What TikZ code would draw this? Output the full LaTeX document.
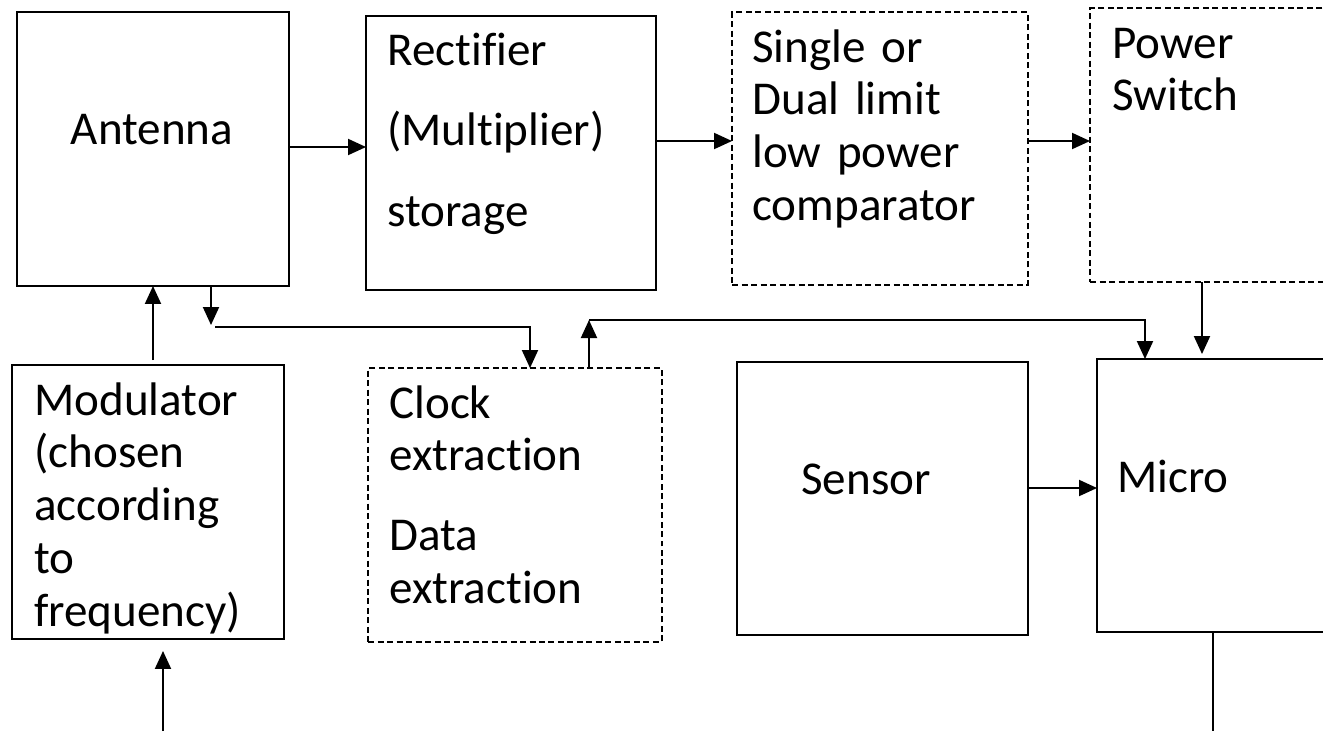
\documentclass[tikz,border=0pt]{standalone}
\usepackage{fontspec}
\setmainfont{Carlito}[Ligatures=NoCommon]
\usetikzlibrary{arrows.meta,calc}

\tikzset{
  blk/.style={draw, line width=1.1pt, inner sep=0pt, outer sep=0pt},
  dblk/.style={draw, line width=1pt, dash pattern=on 0.12cm off 0.07cm, inner sep=0pt, outer sep=0pt},
  txt/.style={anchor=base west, inner sep=0pt, text width=6cm, align=left, font=\fontsize{26.8pt}{30.1pt}\selectfont},
  arr/.style={line width=1.1pt, -{Triangle[length=0.36cm,width=0.32cm]}},
  ln/.style={line width=1.1pt}
}

\begin{document}
\begin{tikzpicture}[x=0.02cm, y=-0.02cm]
  \useasboundingbox (0,0) rectangle (1323,731);
  \clip (0,0) rectangle (1323,731);

  \node[blk, minimum width=5.44cm, minimum height=5.48cm] (ant) at (153,149) {};
  \node[blk, minimum width=5.80cm, minimum height=5.48cm] (rect) at (511,153) {};
  \node[dblk, minimum width=5.92cm, minimum height=5.46cm] (cmp) at (880,148.5) {};
  \node[dblk, minimum width=5.00cm, minimum height=5.48cm] (psw) at (1215,145) {};
  \node[blk, minimum width=5.44cm, minimum height=5.48cm] (mod) at (148,502) {};
  \node[dblk, minimum width=5.88cm, minimum height=5.48cm] (clk) at (515,505) {};
  \node[blk, minimum width=5.82cm, minimum height=5.46cm] (sen) at (882.5,498.5) {};
  \node[blk, minimum width=4.86cm, minimum height=5.46cm] (mic) at (1218.5,495.5) {};

  \node[txt, anchor=base, text width=4cm, align=center] (antlbl) at (152,144) {Antenna};
  \node[txt] (rectlbl) at (387,65) {Rectifier\\[15.8pt](Multiplier)\\[15.8pt]storage};
  \node[txt] (cmplbl) at (752,62) {Single or\\Dual limit\\low power\\comparator};
  \node[txt] (pswlbl) at (1112,58) {Power\\Switch};
  \node[txt] (modlbl) at (34,415) {Modulator\\(chosen\\according\\to\\frequency)};
  \node[txt] (clklbl) at (389,418) {Clock\\extraction\\[15.3pt]Data\\extraction};
  \node[txt] (senlbl) at (801,494) {Sensor};
  \node[txt] (miclbl) at (1117,492) {Micro};

  \draw[arr] (ant.east |- 0,147) -- (rect.west |- 0,147);
  \draw[arr] (rect.east |- 0,141) -- (cmp.west |- 0,141);
  \draw[arr] (cmp.east |- 0,141) -- (psw.west |- 0,141);
  \draw[arr] ($(ant.south |- mod.north)+(0,-5)$) -- (ant.south);
  \coordinate (antout) at (211,325);
  \draw[arr] (antout |- ant.south) -- (antout);
  \coordinate (bus) at (215,327);
  \draw[arr] (bus) -| (530,0 |- clk.north);
  \coordinate (fb) at (589,320);
  \draw[arr] (fb |- clk.north) -- (fb);
  \draw[arr] (fb) -| (1145,0 |- mic.north);
  \draw[arr] (1202,0 |- psw.south) -- ($(1202,0 |- mic.north)+(0,-5)$);
  \draw[arr] (sen.east |- 0,488) -- (mic.west |- 0,488);
  \coordinate (micout) at (1213,731);
  \draw[ln] (micout |- mic.south) -- (micout);
  \coordinate (modin) at (163,731);
  \draw[arr] (modin) -- ($(modin |- mod.south)+(0,12)$);
\end{tikzpicture}
\end{document}
